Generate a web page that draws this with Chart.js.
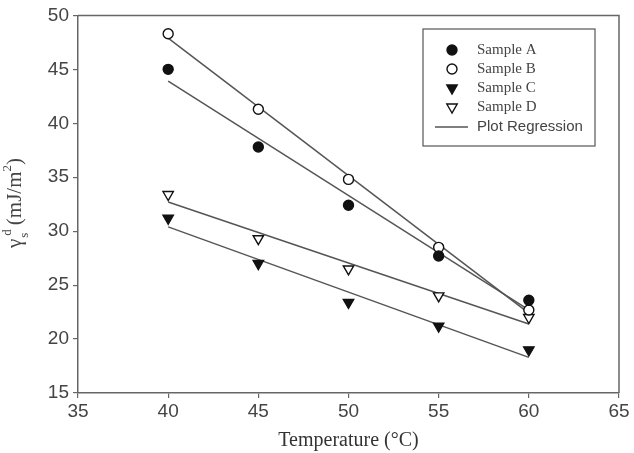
<!DOCTYPE html>
<html>
<head>
<meta charset="utf-8">
<script src="https://cdn.jsdelivr.net/npm/chart.js@4.4.0/dist/chart.umd.min.js"></script>
<style>
  body { margin: 0; background: #fff; }
  #wrap { width: 634px; height: 453px; }
</style>
</head>
<body>
<div id="wrap"><canvas id="myChart"></canvas></div>
<script>
// temperatures (°C) and dispersive surface energy values (mJ/m2)
var temps = [40, 45, 50, 55, 60]
var sampleA = [45.0, 37.8, 32.4, 27.7, 23.6]
var sampleB = [48.3, 41.3, 34.8, 28.5, 22.7]
var sampleC = [31.2, 27.0, 23.4, 21.2, 19.0]
var sampleD = [33.4, 29.3, 26.5, 24.0, 22.0]

// regression line ends, read at 40 and 60 °C
var fitX = [40, 60]
var fitA = [43.9, 22.7]
var fitB = [47.9, 22.4]
var fitC = [30.4, 18.3]
var fitD = [32.7, 21.4]

var legendNames = ['Sample A', 'Sample B', 'Sample C', 'Sample D', 'Plot Regression']

function pts(xs, ys) {
    return xs.map(function (x, i) { return { x: x, y: ys[i] } })
}

var lineColor = '#555'
var axisColor = '#666'
var tickColor = '#444'

function markerSet(label, ys, style, fill, radius, rot) {
    return {
        label: label,
        data: pts(temps, ys),
        showLine: false,
        pointStyle: style,
        pointRadius: radius,
        pointHoverRadius: radius,
        pointRotation: rot,
        pointBackgroundColor: fill,
        pointBorderColor: '#111',
        pointBorderWidth: 1.4,
        order: 0
    }
}

function fitSet(ys) {
    return {
        label: 'fit',
        data: pts(fitX, ys),
        showLine: true,
        pointRadius: 0,
        borderColor: lineColor,
        borderWidth: 1.5,
        order: 1
    }
}

// frame + custom legend + y title with sub/superscripts
var extras = {
    id: 'extras',
    afterDraw: function (chart) {
        var c = chart.ctx
        var a = chart.chartArea
        c.save()
        c.strokeStyle = axisColor
        c.lineWidth = 1.5
        c.beginPath()
        c.moveTo(a.left, a.top)
        c.lineTo(a.right, a.top)
        c.lineTo(a.right, a.bottom)
        c.stroke()

        // legend box
        c.lineWidth = 1.2
        c.strokeStyle = '#555'
        c.strokeRect(423, 29, 172, 117)
        var rows = [50, 69, 88, 107, 127]
        var styles = [
            { s: 'circle', f: '#111', r: 5, rot: 0 },
            { s: 'circle', f: '#fff', r: 5, rot: 0 },
            { s: 'triangle', f: '#111', r: 6, rot: 180 },
            { s: 'triangle', f: '#fff', r: 6, rot: 180 }
        ]
        for (var i = 0; i < 4; i++) {
            c.fillStyle = styles[i].f
            c.strokeStyle = '#111'
            c.lineWidth = 1.4
            Chart.helpers.drawPoint(c, { pointStyle: styles[i].s, radius: styles[i].r, rotation: styles[i].rot, borderWidth: 1.4 }, 452, rows[i])
            c.fillStyle = '#444'
            c.font = '15px "Liberation Serif"'
            c.textBaseline = 'middle'
            c.textAlign = 'left'
            c.fillText(legendNames[i], 477, rows[i])
        }
        c.strokeStyle = lineColor
        c.lineWidth = 1.5
        c.beginPath()
        c.moveTo(435, rows[4])
        c.lineTo(468, rows[4])
        c.stroke()
        c.fillStyle = '#444'
        c.font = '15px "Liberation Sans"'
        c.fillText(legendNames[4], 477, rows[4])

        // y axis title: gamma_s^d (mJ/m^2)
        var big = '21px "Liberation Serif"'
        var small = '13px "Liberation Serif"'
        c.font = big
        var wG = c.measureText('\u03b3').width
        var wMain = c.measureText(' (mJ/m').width
        var wClose = c.measureText(')').width
        c.font = small
        var wS = c.measureText('s').width
        var wD = c.measureText('d').width
        var w2 = c.measureText('2').width
        var total = wG + wS + wD * 0.5 + wMain + w2 + wClose
        c.translate(21, 203)
        c.rotate(-Math.PI / 2)
        c.textBaseline = 'alphabetic'
        c.fillStyle = '#444'
        var x = -total / 2
        c.font = big
        c.fillText('\u03b3', x, 0)
        x += wG
        c.font = small
        c.fillText('s', x + 1, 7)
        c.fillText('d', x + wS * 0.6, -10)
        x += wS + wD * 0.5
        c.font = big
        c.fillText(' (mJ/m', x, 0)
        x += wMain
        c.font = small
        c.fillText('2', x, -10)
        x += w2
        c.font = big
        c.fillText(')', x, 0)
        c.restore()
    }
}

var ctx = document.getElementById('myChart').getContext('2d')
var Chart1 = new Chart(ctx, {
    type: 'scatter',
    plugins: [extras],
    data: {
        datasets: [
            markerSet('Sample A', sampleA, 'circle', '#111', 5, 0),
            markerSet('Sample B', sampleB, 'circle', '#fff', 5, 0),
            markerSet('Sample C', sampleC, 'triangle', '#111', 6, 180),
            markerSet('Sample D', sampleD, 'triangle', '#fff', 6, 180),
            fitSet(fitA),
            fitSet(fitB),
            fitSet(fitC),
            fitSet(fitD)
        ]
    },
    options: {
        responsive: true,
        maintainAspectRatio: false,
        animation: false,
        layout: { padding: { top: 15, right: 15, left: 0, bottom: 0 } },
        plugins: {
            legend: { display: false },
            tooltip: { enabled: false }
        },
        scales: {
            x: {
                type: 'linear',
                min: 35,
                max: 65,
                ticks: { stepSize: 5, color: tickColor, padding: 2, font: { family: 'Liberation Sans', size: 19 } },
                grid: { drawOnChartArea: false, drawTicks: true, tickLength: 5, color: axisColor, lineWidth: 1.2 },
                border: { display: true, color: axisColor, width: 1.5 },
                title: {
                    display: true,
                    text: 'Temperature (\u00b0C)',
                    color: '#333',
                    font: { family: 'Liberation Serif', size: 20 },
                    padding: { top: 4, bottom: 0 }
                },
                afterFit: function (s) { s.height = 60 }
            },
            y: {
                min: 15,
                max: 50,
                ticks: { stepSize: 5, color: tickColor, padding: 4, font: { family: 'Liberation Sans', size: 19 } },
                grid: { drawOnChartArea: false, drawTicks: true, tickLength: 5, color: axisColor, lineWidth: 1.2 },
                border: { display: true, color: axisColor, width: 1.5 },
                afterFit: function (s) { s.width = 78 }
            }
        }
    }
})
</script>
</body>
</html>
